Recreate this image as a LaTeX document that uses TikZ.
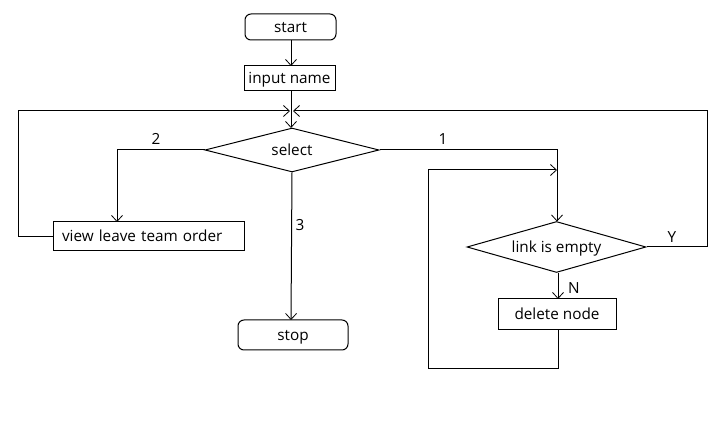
\documentclass[tikz,border=0pt]{standalone}
\usepackage{fontspec}
\setmainfont{Open Sans}
\usetikzlibrary{shapes.geometric,arrows.meta}
\begin{document}
\begin{tikzpicture}[x=1pt,y=-1pt,
  every node/.style={font=\fontsize{15.3}{17}\selectfont},
  line/.style={line width=1pt},
  arr/.style={line width=1pt,-{Straight Barb[length=6pt,width=11pt,line width=0.8pt]}},
  txt/.style={text height=11pt,text depth=0pt},
  term/.style={draw,line width=1pt,rounded corners=6pt,inner sep=0pt,txt},
  proc/.style={draw,line width=1pt,inner sep=0pt,txt},
  dec/.style={draw,line width=1pt,diamond,aspect=3.9,inner sep=0pt,txt},
  lbl/.style={inner sep=0pt}]
\useasboundingbox (0,0) rectangle (721,430);
\fill[white] (0,0) rectangle (721,430);
\node[term,minimum width=91pt,minimum height=26pt] (start) at (290.5,27) {start};
\node[proc,minimum width=91pt,minimum height=25pt] (input) at (289.5,78.5) {input name};
\node[dec,minimum width=174pt,minimum height=44pt] (select) at (292,150) {select};
\node[proc,minimum width=191pt,minimum height=29pt,text width=173pt,align=left] (view) at (148.5,236.5) {view leave team order};
\node[term,minimum width=110pt,minimum height=30pt] (stop) at (293,335) {stop};
\node[dec,minimum width=179pt,minimum height=51pt] (link) at (556.5,247) {link is empty};
\node[proc,minimum width=118pt,minimum height=31pt] (del) at (557,314.5) {delete node};

\draw[arr] (start.south -| 291,0) -- (291,66);
\draw[arr] (291,91) -- (291,128);
\draw[arr] (view.west) -- (18,236.5) -- (18,111) -- (290,111);
\draw[arr] (link.east) -- (707,247) -- (707,111) -- (293,111);
\draw[arr] (select.west) -- (117,150) -- (117,222);
\draw[arr] (select.south) -- (291,320);
\draw[line] (select.east) -- (557,150) -- (557,170);
\draw[arr] (557,170) -- (557,221.5);
\draw[arr] (del.south -| 558,0) -- (558,369) -- (428,369) -- (428,170) -- (557,170);
\draw[arr] (link.south -| 558,0) -- (558,299);

\node[lbl] (l2) at (156,139) {2};
\node[lbl] (l3) at (300,225) {3};
\node[lbl] (l1) at (443,139) {1};
\node[lbl] (lN) at (574,288) {N};
\node[lbl] (lY) at (672,237) {Y};
\end{tikzpicture}
\end{document}
